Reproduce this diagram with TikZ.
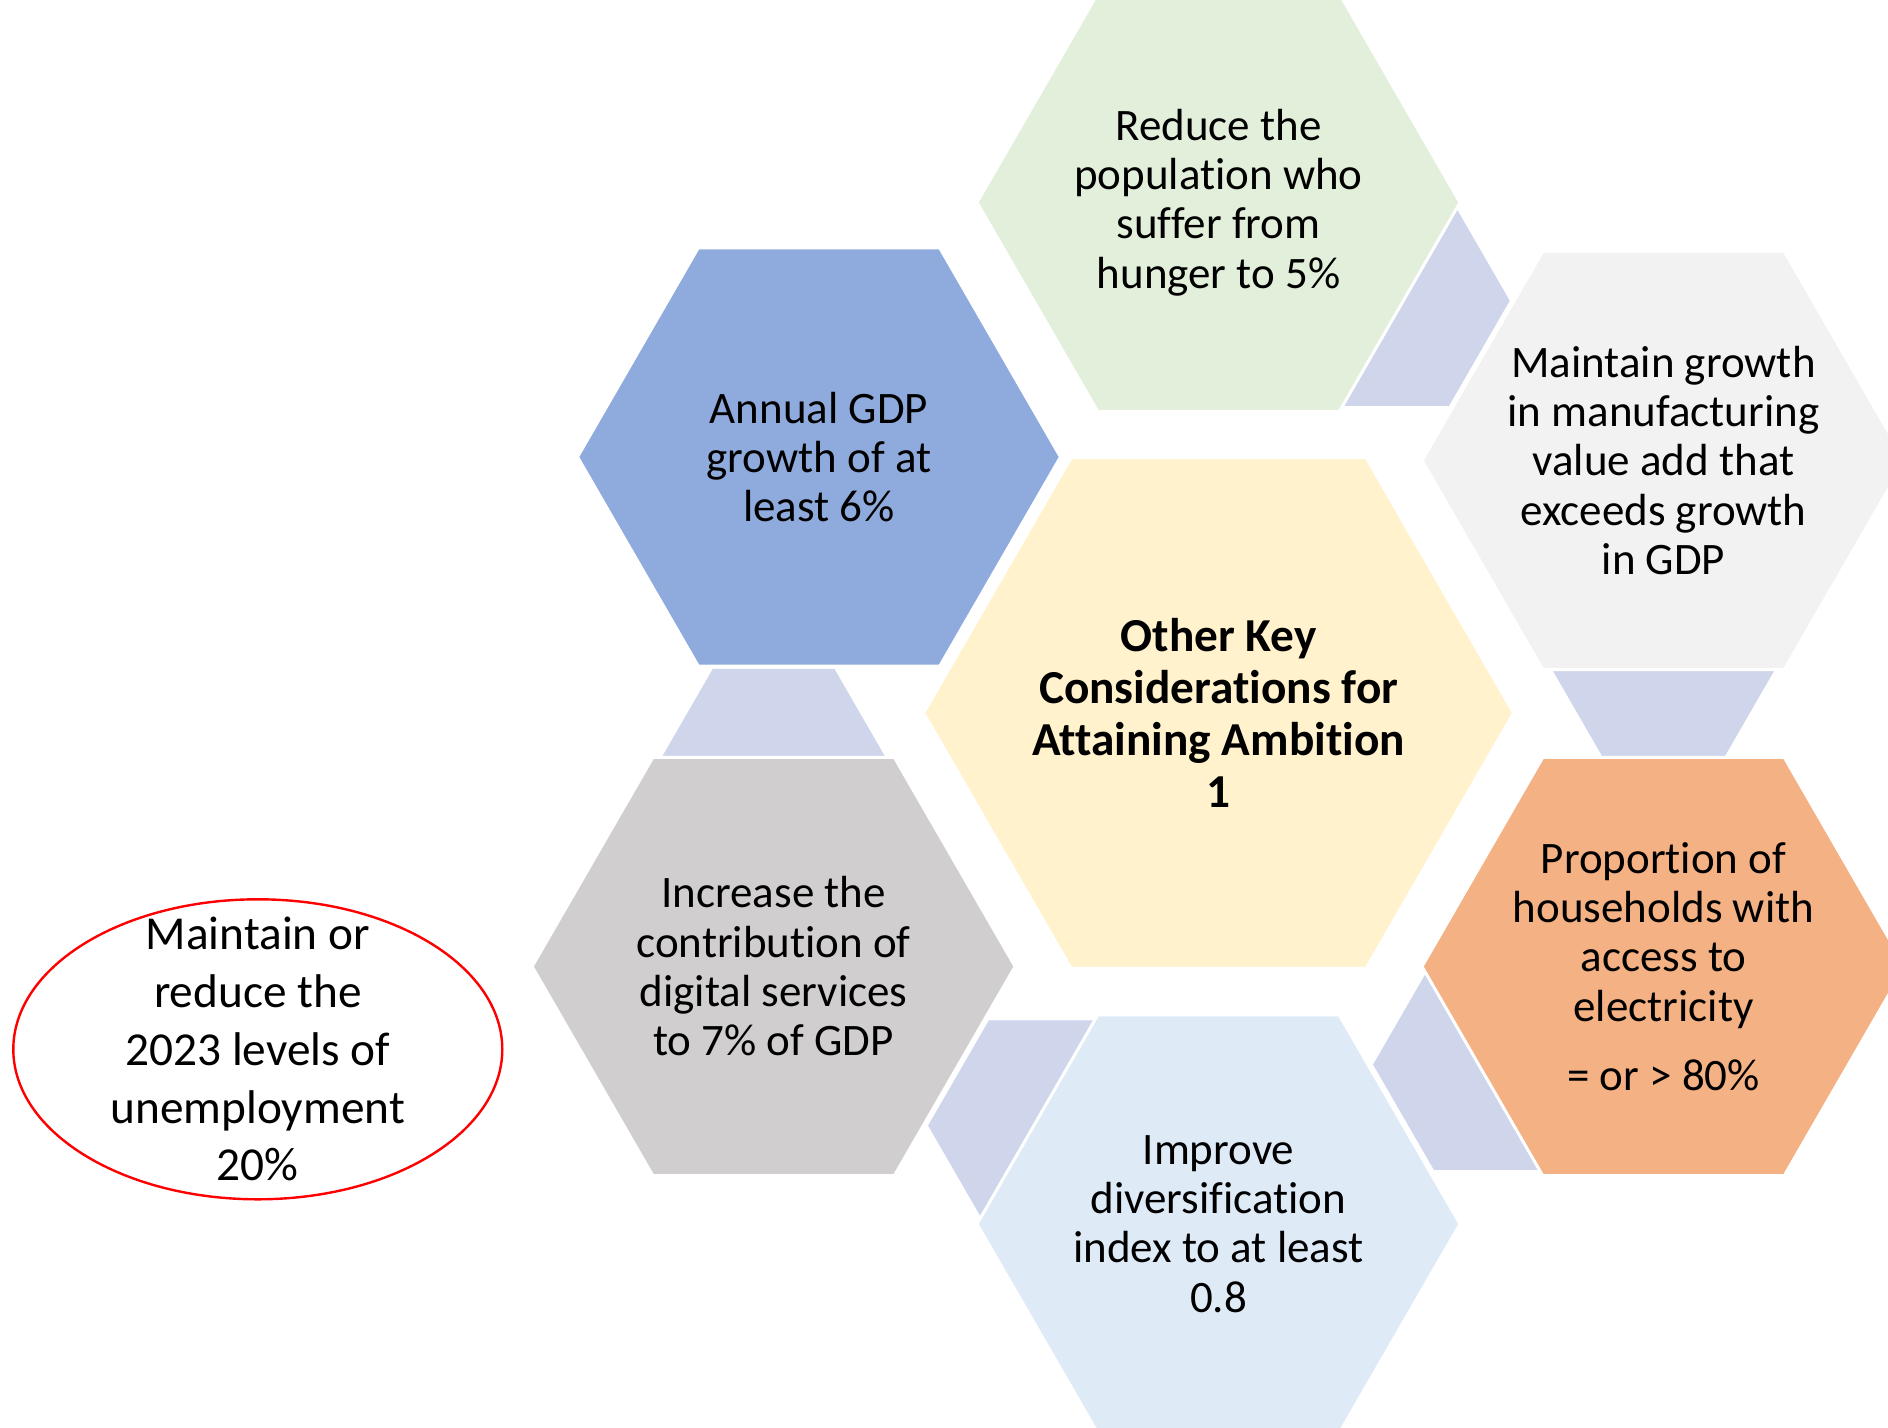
\documentclass[tikz,border=0pt]{standalone}
\usepackage{fontspec}
\setmainfont{Carlito}[RawFeature={-liga;-clig;-calt;-dlig}]
\usetikzlibrary{shapes.geometric}
\definecolor{hexblue}{HTML}{8FAADC}
\definecolor{hexgreen}{HTML}{E2EFDA}
\definecolor{hexyellow}{HTML}{FFF2CC}
\definecolor{hexgreyR}{HTML}{F2F2F2}
\definecolor{hexgreyL}{HTML}{D0CECE}
\definecolor{hexorange}{HTML}{F4B183}
\definecolor{hexlblue}{HTML}{DEEBF7}
\definecolor{hexlink}{HTML}{CFD5EA}
\newcommand\drawhex[4]{\path[#1] (#2,#3) ++(0:#4) -- ++(120:#4) -- ++(180:#4) -- ++(240:#4) -- ++(300:#4) -- ++(0:#4) -- cycle;}
\tikzset{
  linkhex/.style={fill=hexlink},
  outerhex/.style={draw=white, line width=1.5pt, line join=miter},
  hextxt/.style={align=center, font=\fontsize{22.5}{24.65}\selectfont, inner sep=0pt, text=black},
  coretxt/.style={align=center, font=\fontsize{23.65}{25.9}\selectfont\bfseries, inner sep=0pt, text=black},
  elltxt/.style={align=center, font=\fontsize{23.65}{28.85}\selectfont, inner sep=0pt, text=black},
}
\begin{document}
\begin{tikzpicture}[x=0.5pt,y=-0.5pt]
\fill[white] (0,0) rectangle (1888,1428);
\useasboundingbox (0,0) rectangle (1888,1428);
% small linking hexagons (behind)
\drawhex{linkhex}{1388.2}{300.7}{121.5}
\drawhex{linkhex}{1663.5}{652}{121.5}
\drawhex{linkhex}{1494.6}{1064.6}{121.5}
\drawhex{linkhex}{1049.6}{1125.6}{121.5}
\drawhex{linkhex}{773.6}{774}{121.5}
% outer hexagons
\drawhex{outerhex, fill=hexgreen}{1218.5}{202.5}{241.5}
\drawhex{outerhex, fill=hexgreyR}{1663.5}{460.5}{241.5}
\drawhex{outerhex, fill=hexorange}{1663.5}{966.5}{241.5}
\drawhex{outerhex, fill=hexlblue}{1218.5}{1224}{241.5}
\drawhex{outerhex, fill=hexgreyL}{773.6}{966.5}{241.5}
\drawhex{outerhex, fill=hexblue}{819}{457}{241.5}
% centre hexagon
\drawhex{outerhex, fill=hexyellow}{1218.6}{713}{295}
% texts
\node[coretxt] (core) at (1218.6,713) {Other Key\\Considerations for\\Attaining Ambition\\1};
\node[hextxt] (green) at (1218.5,202.5) {Reduce the\\population who\\suffer from\\hunger to 5\%};
\node[hextxt] (greyR) at (1663.5,460.5) {Maintain growth\\in manufacturing\\value add that\\exceeds growth\\in GDP};
\node[hextxt] (orange) at (1663.5,966.5) {Proportion of\\households with\\access to\\electricity\\[10pt]= or > 80\%};
\node[hextxt] (lblue) at (1218.5,1224) {Improve\\diversification\\index to at least\\0.8};
\node[hextxt] (greyL) at (773.6,966.5) {Increase the\\contribution of\\digital services\\to 7\% of GDP};
\node[hextxt] (blue) at (819,457) {Annual GDP\\growth of at\\least 6\%};
% ellipse
\draw[red, line width=1.2pt] (257.8,1049.3) ellipse [x radius=122.25pt, y radius=75pt];
\node[elltxt] (unemp) at (257.8,1049.3) {Maintain or\\reduce the\\2023 levels of\\unemployment\\20\%};
\end{tikzpicture}
\end{document}
